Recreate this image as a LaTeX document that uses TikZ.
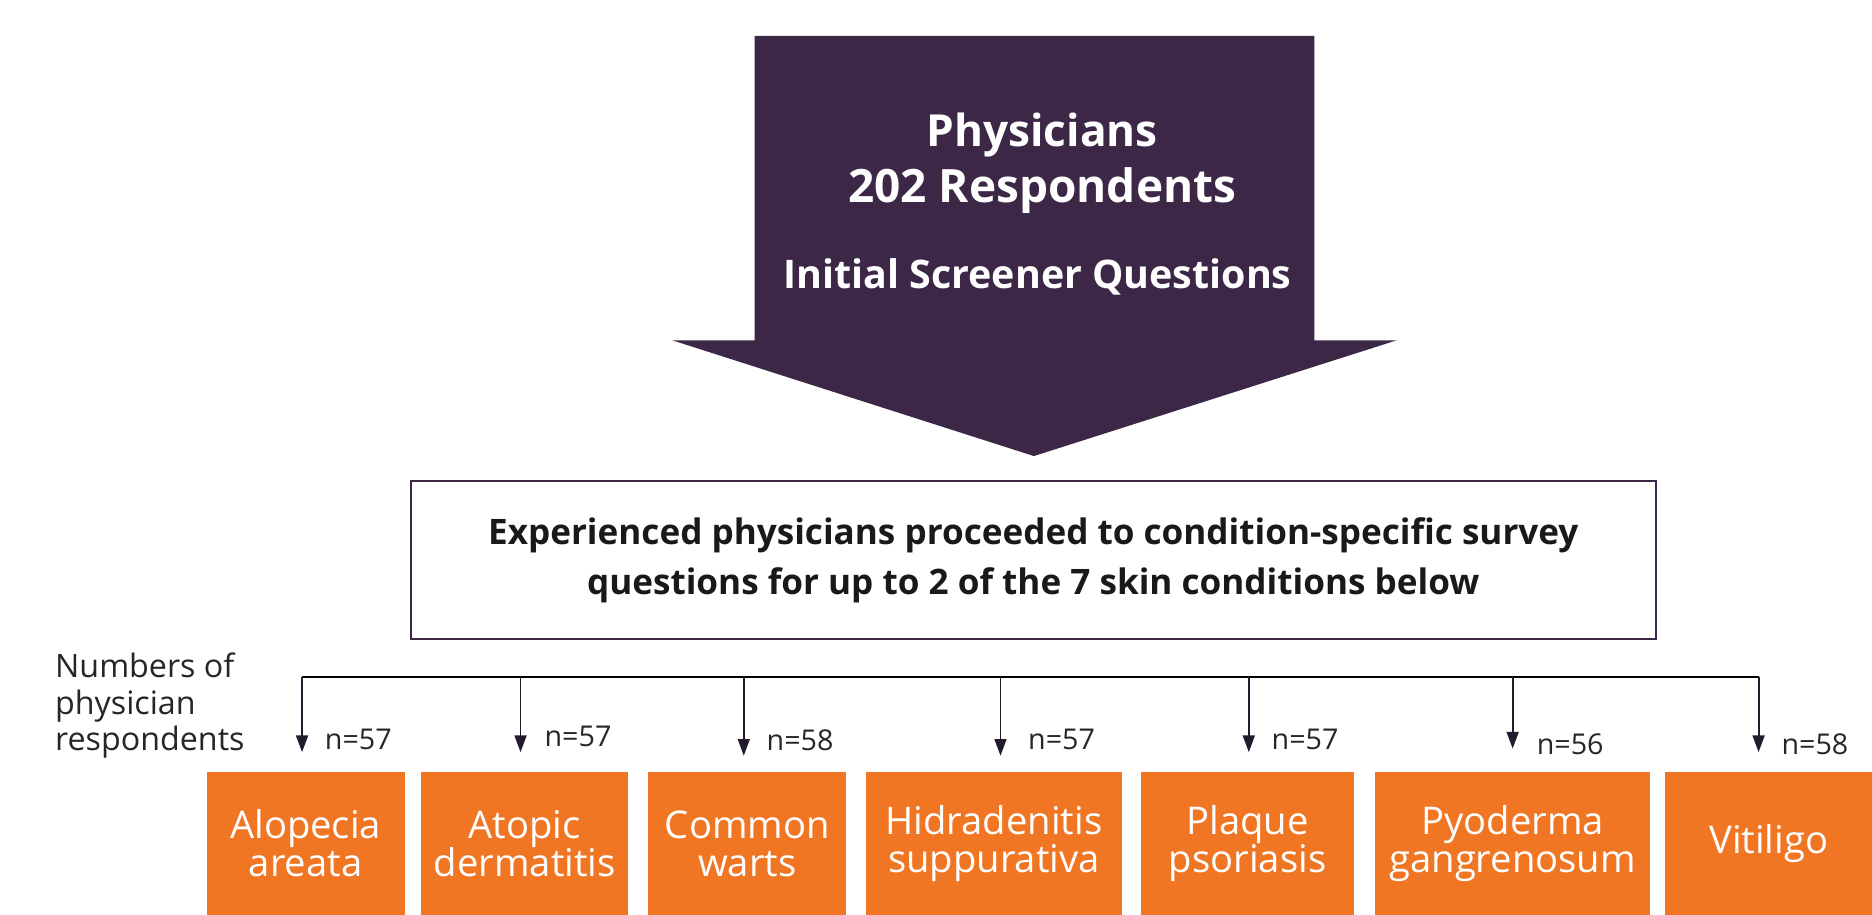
\documentclass[tikz,border=0pt]{standalone}
\usepackage{fontspec}
\setmainfont{Open Sans}
\usetikzlibrary{arrows.meta}
\definecolor{purp}{HTML}{3C2747}
\definecolor{orng}{HTML}{F07624}
\definecolor{tipc}{HTML}{231A2E}
\begin{document}
\begin{tikzpicture}[x=1pt,y=-1pt,
  obox/.style={fill=orng, text=white, minimum height=119pt, align=center, inner sep=0pt,
    font=\fontsize{32}{32}\selectfont},
  nlab/.style={anchor=west, inner sep=0pt, font=\fontsize{24}{26}\selectfont, text=black!85},
  feed/.style={draw=tipc, line width=1.5pt, -{Triangle[width=10pt,length=14pt]}},
  bus/.style={draw=black, line width=2pt}
]
\useasboundingbox (0,0) rectangle (1568,766);
% big arrow
\fill[purp] (632,30) -- (1101,30) -- (1101,285) -- (1170,285) -- (866,382) -- (563,285) -- (632,285) -- cycle;
\node[text=white, font=\bfseries\fontsize{37}{44}\selectfont] (phys) at (873,113) {Physicians};
\node[text=white, font=\bfseries\fontsize{38.5}{44}\selectfont] (resp) at (873,160) {202 Respondents};
\node[text=white, font=\bfseries\fontsize{33}{40}\selectfont] (screen) at (869,232) {Initial Screener Questions};
% box
\node[draw=purp, line width=2pt, minimum width=1043pt, minimum height=132pt, align=center,
  font=\bfseries\fontsize{29.4}{42}\selectfont, text=black!90] (exp) at (865.5,469)
  {\raisebox{-3pt}{Experienced physicians proceeded to condition-specific survey}\\\raisebox{-3pt}{questions for up to 2 of the 7 skin conditions below}};
% left label
\node[anchor=west, align=left, inner sep=0pt, font=\fontsize{27}{30.5}\selectfont, text=black!85] (numlab) at (46,591)
  {Numbers of\\physician\\respondents};
% orange boxes
\node[obox, minimum width=166pt] (b1) at (256,706.5) {Alopecia\\areata};
\node[obox, minimum width=173pt] (b2) at (439.5,706.5) {Atopic\\dermatitis};
\node[obox, minimum width=166pt] (b3) at (626,706.5) {Common\\warts};
\node[obox, minimum width=215pt] (b4) at (832.5,706.5) {Hidradenitis\\suppurativa};
\node[obox, minimum width=178pt] (b5) at (1045,706.5) {Plaque\\psoriasis};
\node[obox, minimum width=230pt] (b6) at (1267,706.5) {Pyoderma\\gangrenosum};
\node[obox, minimum width=173pt] (b7) at (1481.5,706.5) {Vitiligo};
% bus
\coordinate (t1) at (253,567); \coordinate (t2) at (436,567); \coordinate (t3) at (623,567);
\coordinate (t4) at (838,567); \coordinate (t5) at (1046,567); \coordinate (t6) at (1267,567);
\coordinate (t7) at (1473,567);
\coordinate (e1) at (253,630); \coordinate (e2) at (436,630); \coordinate (e3) at (623,633);
\coordinate (e4) at (838,633); \coordinate (e5) at (1046,630); \coordinate (e6) at (1267,627);
\coordinate (e7) at (1473,630);
\draw[bus] (t1) -- (t7);
\foreach \i in {1,...,7} { \draw[feed] (t\i) -- (e\i); }
% labels
\node[nlab] (n1) at (272,619) {n=57};
\node[nlab] (n2) at (456,617) {n=57};
\node[nlab] (n3) at (642,620) {n=58};
\node[nlab] (n4) at (861,619) {n=57};
\node[nlab] (n5) at (1065,619) {n=57};
\node[nlab] (n6) at (1287,623) {n=56};
\node[nlab] (n7) at (1492,623) {n=58};
\end{tikzpicture}
\end{document}
